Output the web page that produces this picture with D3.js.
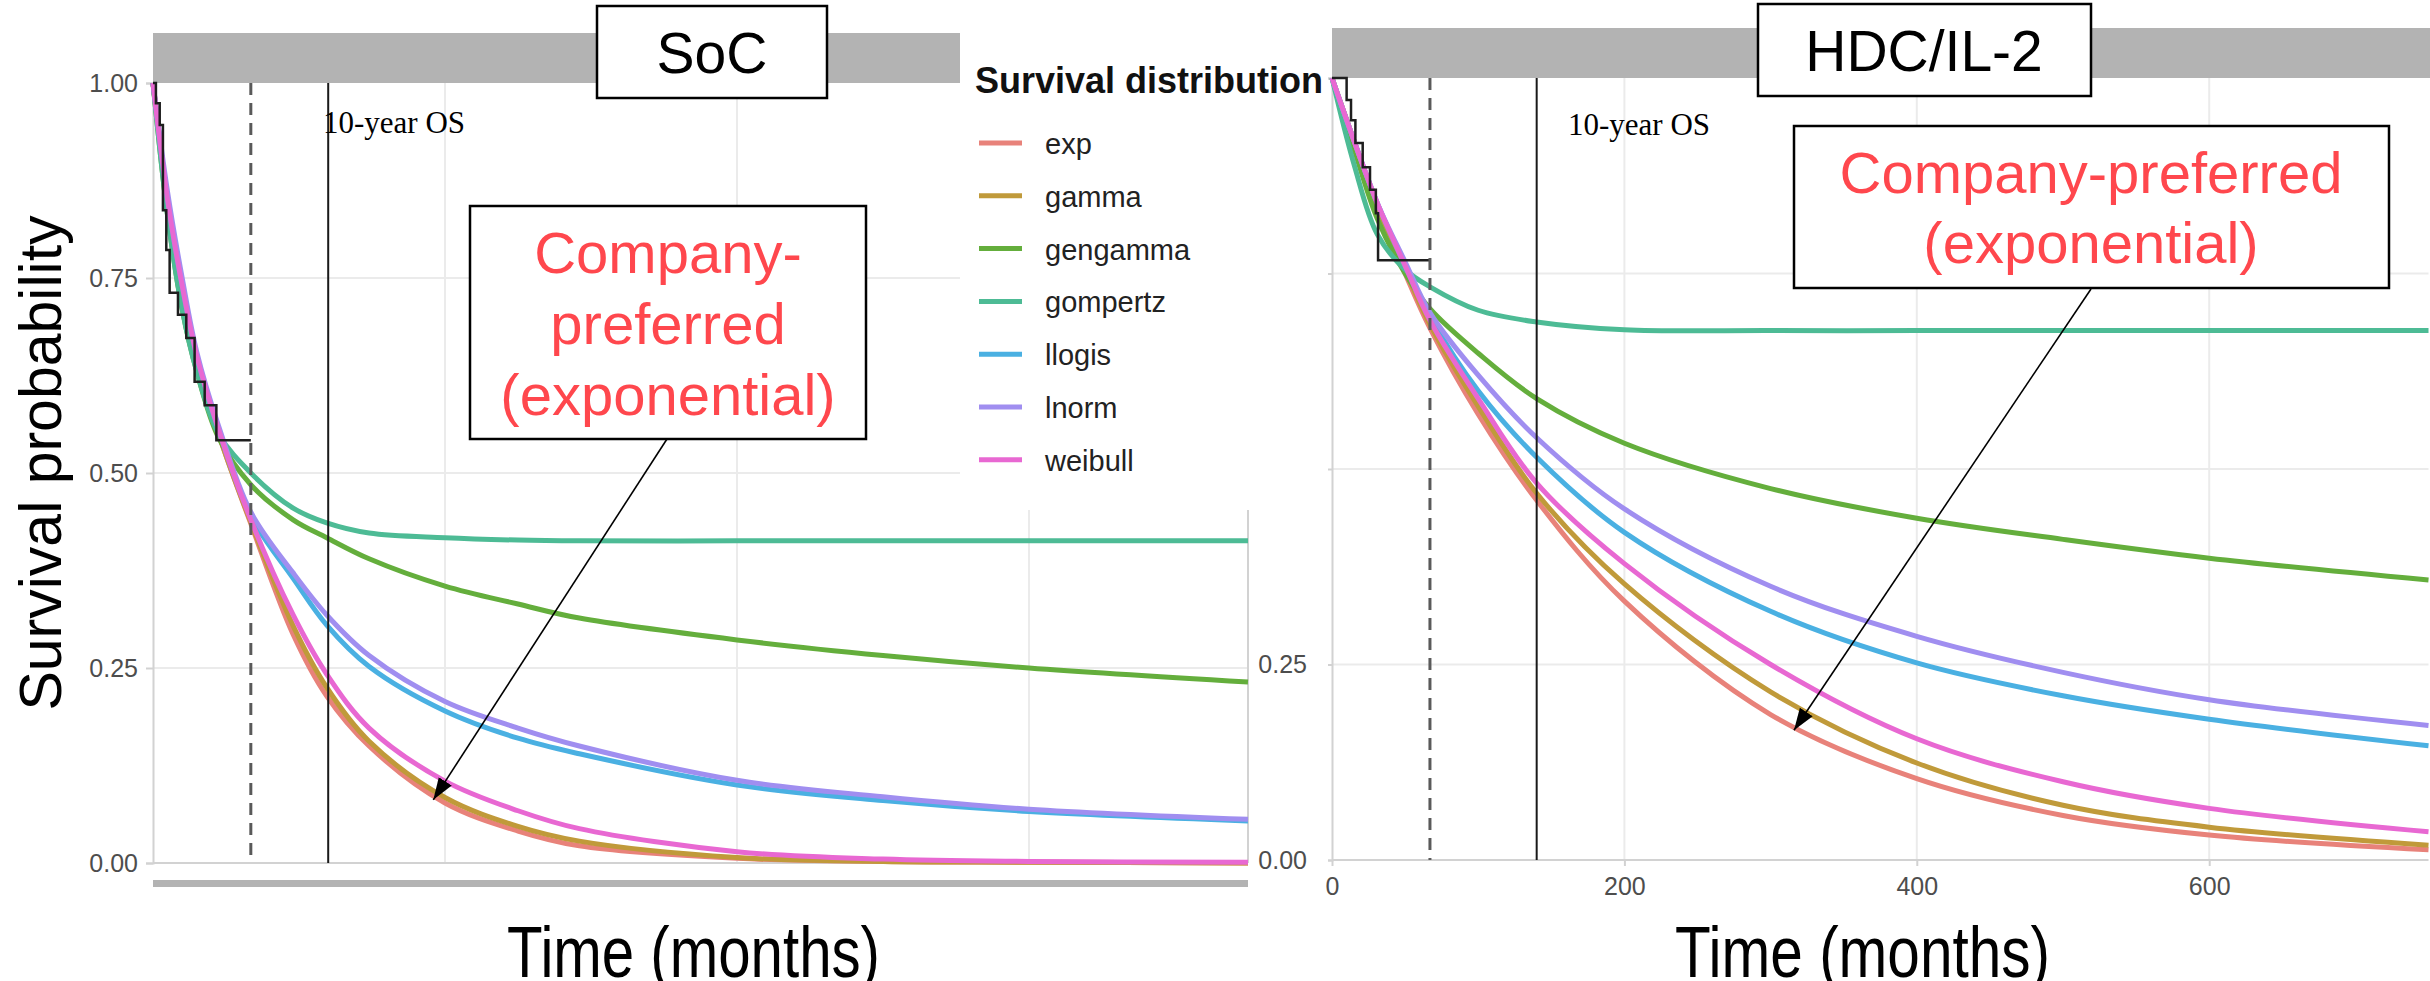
<!DOCTYPE html>
<html>
<head>
<meta charset="utf-8">
<script src="https://cdn.jsdelivr.net/npm/d3@7"></script>
<style>
  html, body { margin: 0; padding: 0; background: #ffffff; }
  svg { display: block; }
</style>
</head>
<body>
<script>
// ---------------- DATA ----------------
const distributions = ["exp", "gamma", "gengamma", "gompertz", "llogis", "lnorm", "weibull"];
const distColors = ["#E8827A", "#C09A3A", "#64AE3C", "#4DBB95", "#4AB0E2", "#A08EF0", "#E868D2"];

// SoC panel (months, survival probability)
const timesL    = [0, 10, 20, 30, 45, 67, 96, 119, 148, 200, 250, 292, 400, 500, 600, 750];
const expL      = [1, .85, .74, .65, .55, .435, .293, .214, .150, .077, .041, .022, .006, .002, .001, 0];
const gammaL    = [1, .85, .74, .65, .55, .437, .304, .225, .156, .084, .047, .028, .007, .002, .001, 0];
const gengammaL = [1, .83, .71, .63, .545, .485, .44, .417, .39, .355, .332, .314, .286, .266, .25, .232];
const gompertzL = [1, .83, .71, .63, .55, .50, .455, .436, .423, .417, .414, .413, .413, .413, .413, .413];
const llogisL   = [1, .85, .74, .65, .555, .445, .365, .305, .252, .195, .160, .140, .100, .080, .066, .054];
const lnormL    = [1, .86, .75, .655, .56, .45, .372, .318, .266, .207, .173, .150, .106, .085, .069, .056];
const weibullL  = [1, .85, .74, .65, .555, .44, .318, .242, .173, .105, .067, .044, .0145, .005, .002, .001];
const kmTimesL  = [0, 2, 4.6, 6.8, 9.1, 11.4, 17.1, 22.8, 28.5, 35.4, 43.4, 67];
const kmSurvL   = [1, .974, .946, .837, .786, .731, .703, .673, .617, .587, .542, .542];

// HDC/IL-2 panel
const timesR    = [0, 15, 31, 50, 67, 100, 140, 200, 300, 400, 500, 600, 750];
const expR      = [1, .92, .835, .75, .68, .57, .46, .331, .186, .104, .057, .032, .013];
const gammaR    = [1, .92, .837, .755, .685, .58, .469, .353, .215, .124, .07, .042, .019];
const gengammaR = [1, .91, .82, .75, .705, .648, .59, .533, .475, .437, .41, .386, .358];
const gompertzR = [1, .89, .80, .755, .733, .703, .688, .678, .677, .677, .677, .677, .677];
const llogisR   = [1, .92, .84, .76, .695, .60, .515, .419, .318, .252, .21, .18, .146];
const lnormR    = [1, .92, .84, .765, .70, .62, .54, .449, .35, .286, .24, .205, .172];
const weibullR  = [1, .92, .84, .76, .69, .59, .482, .379, .25, .155, .10, .066, .036];
const kmTimesR  = [0, 10, 13, 16, 21, 26, 30, 31.5, 67];
const kmSurvR   = [1, .972, .946, .917, .886, .857, .827, .767, .767];

// reference lines (months)
const dashedTime = 67;
const tenYearTimeL = 120;
const tenYearTimeR = 140;

// axis ticks
const yTicks = [0, 0.25, 0.5, 0.75, 1];
const yLabelsR = [0, 0.25];          // the others are hidden by the legend box
const xTicksR = [0, 200, 400, 600];
const xGrid = [200, 400, 600];

// annotation arrow tips (data coords)
const arrowTipL = [192, 0.081];
const arrowTipR = [316, 0.166];

// ---------------- LAYOUT ----------------
const W = 2430, H = 981;
const svg = d3.select("body").append("svg").attr("width", W).attr("height", H)
  .style("font-family", "'Liberation Sans', Arial, Helvetica, sans-serif");

const xL = d3.scaleLinear().domain([0, 750]).range([153, 1248]);
const yL = d3.scaleLinear().domain([0, 1]).range([863, 83]);
const xR = d3.scaleLinear().domain([0, 750]).range([1332, 2428.5]);
const yR = d3.scaleLinear().domain([0, 1]).range([860, 78]);

const seriesL = [expL, gammaL, gengammaL, gompertzL, llogisL, lnormL, weibullL];
const seriesR = [expR, gammaR, gengammaR, gompertzR, llogisR, lnormR, weibullR];

const gridColor = "#ebebeb";
const axisColor = "#d2d2d2";
const stripColor = "#b3b3b3";

function drawPanel(g, x, y, times, series, kmT, kmS, tenYear, opts) {
  // horizontal grid
  g.append("g").selectAll("line").data(yTicks.filter(d => d > 0 && d < 1)).join("line")
    .attr("x1", x.range()[0]).attr("x2", x.range()[1])
    .attr("y1", d => y(d)).attr("y2", d => y(d))
    .attr("stroke", gridColor).attr("stroke-width", 2);
  // vertical grid
  g.append("g").selectAll("line").data(xGrid).join("line")
    .attr("x1", d => x(d)).attr("x2", d => x(d))
    .attr("y1", y(0)).attr("y2", y(1))
    .attr("stroke", gridColor).attr("stroke-width", 2);

  // y axis
  const fmt = d3.format(".2f");
  const shown = opts.yLabels || yTicks;
  const ya = g.append("g").attr("transform", `translate(${x.range()[0]},0)`)
    .call(d3.axisLeft(y).tickValues(yTicks).tickFormat(d => shown.includes(d) ? fmt(d) : "")
      .tickSize(opts.yTickSize).tickPadding(opts.yTickPad));
  ya.select(".domain").attr("stroke", axisColor).attr("stroke-width", 2);
  ya.selectAll(".tick line").attr("stroke", axisColor).attr("stroke-width", 2);
  ya.selectAll(".tick text").attr("fill", "#4d4d4d").style("font-size", "25px")
    .style("font-family", "'Liberation Sans', Arial, sans-serif");
  ya.selectAll(".tick text").filter(function () { return this.textContent === ""; }).remove();

  // x axis base line
  g.append("line").attr("x1", x.range()[0]).attr("x2", x.range()[1])
    .attr("y1", y(0)).attr("y2", y(0)).attr("stroke", axisColor).attr("stroke-width", 2);

  if (opts.xLabels) {
    const xa = g.append("g").attr("transform", `translate(0,${y(0)})`)
      .call(d3.axisBottom(x).tickValues(xTicksR).tickSize(6).tickPadding(11));
    xa.select(".domain").remove();
    xa.selectAll(".tick line").attr("stroke", axisColor).attr("stroke-width", 2);
    xa.selectAll(".tick text").attr("fill", "#4d4d4d").style("font-size", "25px")
      .style("font-family", "'Liberation Sans', Arial, sans-serif");
  } else {
    g.append("rect").attr("x", x(0)).attr("width", x(750) - x(0))
      .attr("y", y(0) + 17).attr("height", 7).attr("fill", stripColor);
    g.append("line").attr("x1", x(750)).attr("x2", x(750)).attr("y1", y(0)).attr("y2", y(1))
      .attr("stroke", axisColor).attr("stroke-width", 2);
  }

  // strip
  g.append("rect").attr("x", x(0)).attr("width", (opts.stripEnd || x.range()[1]) - x(0))
    .attr("y", y(1) - 50).attr("height", 50).attr("fill", stripColor);

  // curves
  const line = d3.line().x(d => x(d[0])).y(d => y(d[1])).curve(d3.curveCatmullRom.alpha(0.5));
  g.append("g").selectAll("path").data(series).join("path")
    .attr("d", s => line(times.map((t, i) => [t, s[i]])))
    .attr("fill", "none")
    .attr("stroke", (s, i) => distColors[i])
    .attr("stroke-width", 5)
    .attr("stroke-linejoin", "round");

  // KM step curve
  const step = d3.line().x(d => x(d[0])).y(d => y(d[1])).curve(d3.curveStepAfter);
  g.append("path").attr("d", step(kmT.map((t, i) => [t, kmS[i]])))
    .attr("fill", "none").attr("stroke", "#1e1e1e").attr("stroke-width", 2.5);

  // dashed line
  g.append("line").attr("x1", x(dashedTime)).attr("x2", x(dashedTime))
    .attr("y1", y(1)).attr("y2", y(0))
    .attr("stroke", "#5a5a5a").attr("stroke-width", 3).attr("stroke-dasharray", "12,8");
  // 10 year line
  g.append("line").attr("x1", x(tenYear)).attr("x2", x(tenYear))
    .attr("y1", y(1)).attr("y2", y(0))
    .attr("stroke", "#1a1a1a").attr("stroke-width", 2);
}

// ---------------- LEFT PANEL ----------------
const gL = svg.append("g");
drawPanel(gL, xL, yL, timesL, seriesL, kmTimesL, kmSurvL, tenYearTimeL,
  { yTickSize: 7, yTickPad: 8, xLabels: false });

// ---------------- RIGHT PANEL ----------------
const gR = svg.append("g");
drawPanel(gR, xR, yR, timesR, seriesR, kmTimesR, kmSurvR, tenYearTimeR,
  { yTickSize: 4, yTickPad: 21, xLabels: true, stripEnd: W, yLabels: yLabelsR });

// ---------------- LEGEND (white box, drawn over both panels) ----------------
const leg = svg.append("g");
leg.append("rect").attr("x", 960).attr("y", 0).attr("width", 367).attr("height", 510).attr("fill", "#ffffff");
leg.append("text").attr("x", 975).attr("y", 93).text("Survival distribution")
  .style("font-size", "36px").style("font-weight", "bold").attr("fill", "#111");
const legItems = leg.selectAll("g.item").data(distributions).join("g").attr("class", "item")
  .attr("transform", (d, i) => `translate(0,${143 + i * 52.8})`);
legItems.append("line").attr("x1", 979).attr("x2", 1022).attr("y1", 0).attr("y2", 0)
  .attr("stroke", (d, i) => distColors[i]).attr("stroke-width", 5);
legItems.append("text").attr("x", 1045).attr("y", 11).text(d => d)
  .style("font-size", "29px").attr("fill", "#222");

// ---------------- ANNOTATIONS ----------------
function box(x, y, w, h) {
  svg.append("rect").attr("x", x).attr("y", y).attr("width", w).attr("height", h)
    .attr("fill", "#fff").attr("stroke", "#000").attr("stroke-width", 2.5);
}
box(597, 6, 230, 92);
svg.append("text").attr("x", 712).attr("y", 73).attr("text-anchor", "middle")
  .style("font-size", "57px").attr("fill", "#000").text("SoC");
box(1758, 4, 333, 92);
svg.append("text").attr("x", 1924).attr("y", 71).attr("text-anchor", "middle")
  .style("font-size", "57px").attr("fill", "#000").text("HDC/IL-2");

// 10-year OS labels
svg.append("text").attr("x", 323).attr("y", 133).text("10-year OS")
  .style("font-family", "'Liberation Serif', 'Times New Roman', serif").style("font-size", "31px").attr("fill", "#000");
svg.append("text").attr("x", 1568).attr("y", 135).text("10-year OS")
  .style("font-family", "'Liberation Serif', 'Times New Roman', serif").style("font-size", "31px").attr("fill", "#000");

// arrowhead marker
svg.append("defs").append("marker").attr("id", "ah")
  .attr("viewBox", "0 0 10 10").attr("refX", 10).attr("refY", 5)
  .attr("markerWidth", 22).attr("markerHeight", 22).attr("markerUnits", "userSpaceOnUse")
  .attr("orient", "auto")
  .append("path").attr("d", "M0,1.5 L10,5 L0,8.5 Z").attr("fill", "#000");

const red = "#FF474D";
// left company box
box(470, 206, 396, 233);
["Company-", "preferred", "(exponential)"].forEach((t, i) => {
  svg.append("text").attr("x", 668).attr("y", 273 + i * 71).attr("text-anchor", "middle")
    .style("font-size", "58px").attr("fill", red).text(t);
});
svg.append("line").attr("x1", 667).attr("y1", 439)
  .attr("x2", xL(arrowTipL[0])).attr("y2", yL(arrowTipL[1]))
  .attr("stroke", "#000").attr("stroke-width", 1.6).attr("marker-end", "url(#ah)");

// right company box
box(1794, 126, 595, 162);
["Company-preferred", "(exponential)"].forEach((t, i) => {
  svg.append("text").attr("x", 2091).attr("y", 193 + i * 70).attr("text-anchor", "middle")
    .style("font-size", "58px").attr("fill", red).text(t);
});
svg.append("line").attr("x1", 2091).attr("y1", 289)
  .attr("x2", xR(arrowTipR[0])).attr("y2", yR(arrowTipR[1]))
  .attr("stroke", "#000").attr("stroke-width", 1.6).attr("marker-end", "url(#ah)");

// axis titles
svg.append("text").attr("transform", "translate(61,463) rotate(-90)").attr("text-anchor", "middle")
  .style("font-size", "59px").attr("fill", "#000").text("Survival probability");
svg.append("text").attr("x", 507).attr("y", 977).attr("textLength", 373).attr("lengthAdjust", "spacingAndGlyphs")
  .style("font-size", "72px").attr("fill", "#000").text("Time (months)");
svg.append("text").attr("x", 1675).attr("y", 977).attr("textLength", 375).attr("lengthAdjust", "spacingAndGlyphs")
  .style("font-size", "72px").attr("fill", "#000").text("Time (months)");
</script>
</body>
</html>
